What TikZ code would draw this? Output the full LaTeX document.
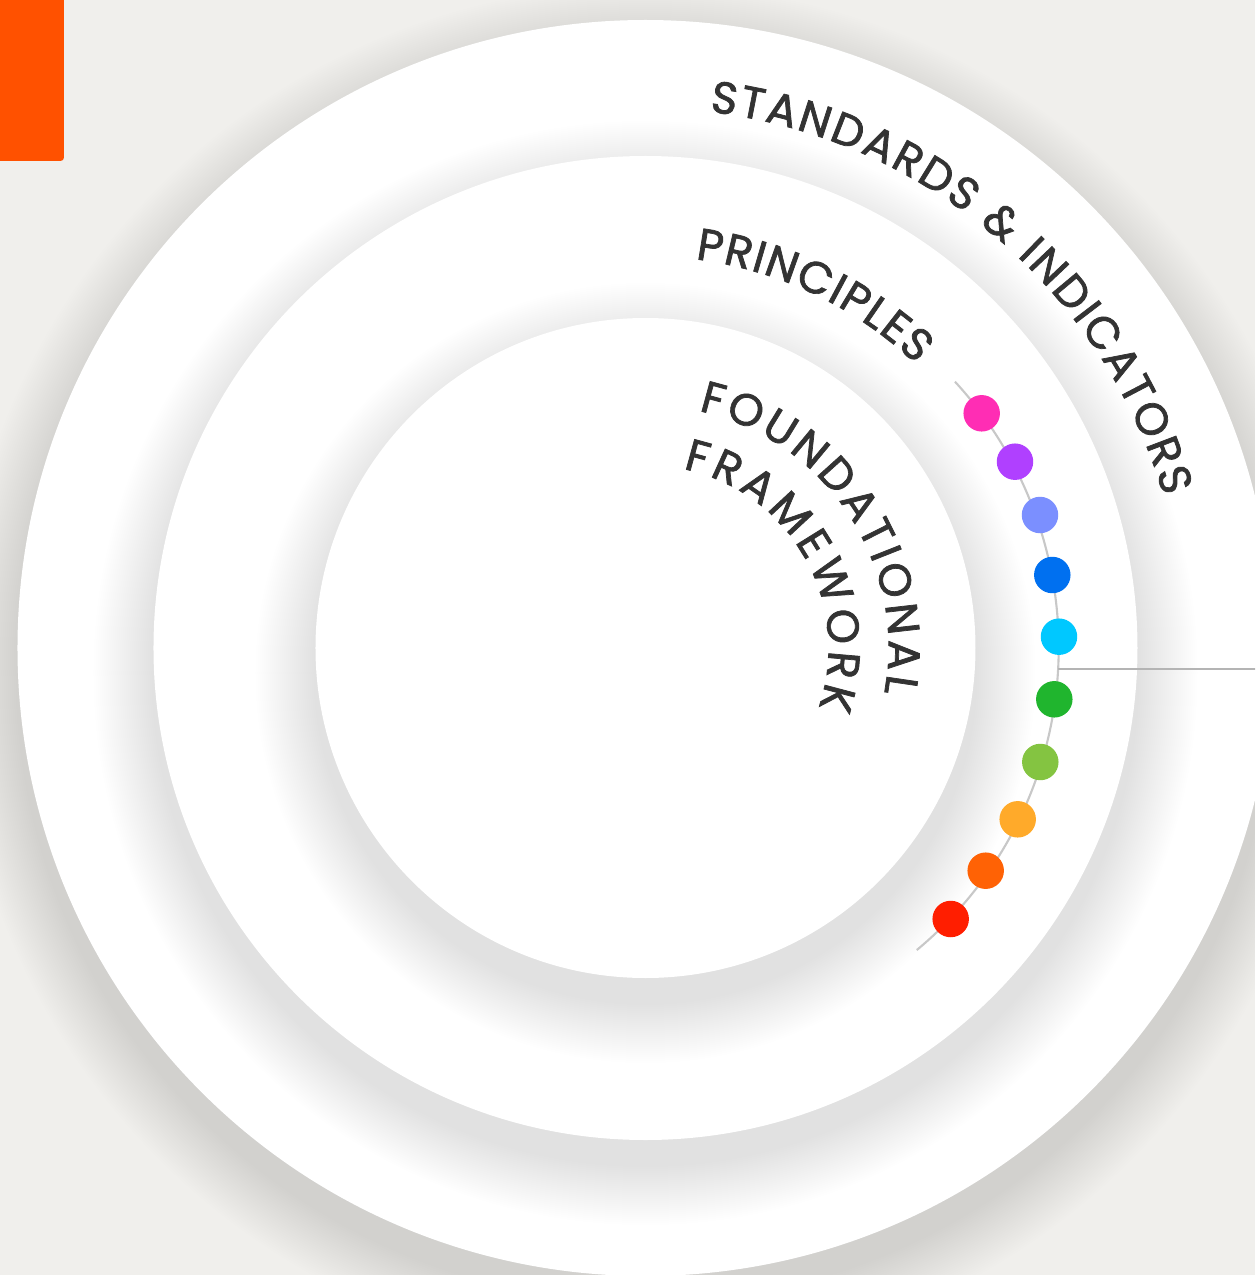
\documentclass[tikz,border=0pt]{standalone}
\usepackage{fontspec}
\usepackage{xcolor}
\usepackage{tikz}
\usetikzlibrary{positioning}
\usetikzlibrary{decorations.text}
\newfontfamily\ringfont{Poppins}[FakeBold=1.6]
\definecolor{paper}{HTML}{F0EFEC}
\definecolor{accent}{HTML}{FF5100}
\definecolor{ink}{HTML}{333333}
\definecolor{rail}{HTML}{C8C8C8}
\definecolor{tapline}{HTML}{B4B4B4}
\definecolor{cpink}{HTML}{FF2DB4}
\definecolor{cviolet}{HTML}{B040FF}
\definecolor{clavender}{HTML}{7B8FFF}
\definecolor{cblue}{HTML}{0070F0}
\definecolor{ccyan}{HTML}{00C8FF}
\definecolor{cgreen}{HTML}{20B52E}
\definecolor{clime}{HTML}{84C441}
\definecolor{camber}{HTML}{FFAA2A}
\definecolor{corange}{HTML}{FF6205}
\definecolor{cred}{HTML}{FF1E00}

\begin{document}
\begin{tikzpicture}
               [x=0.02cm, y=0.02cm,
                ring/.style = {circle, inner sep=0pt, fill=white},
                shade/.style = {fill=black, opacity=0.0055},
                dot/.style = {circle, inner sep=0pt, minimum size=0.73cm},
                curved/.style = {decorate, decoration={text along path, text align={fit to path}, text color=ink}}]
                % Page
                \clip (-645.5,-627) rectangle (609.5,648);
                \fill[paper] (-645.5,-627) rectangle (609.5,648);
                \fill[accent, rounded corners=2pt] (-660,660) rectangle (-581.5,487);
                % Rings, each with a soft shadow below it
                \foreach \r/\n in {628/outer, 492/middle, 330/inner} {
                    \foreach \k in {1,...,30}
                        \fill[shade] (0,-25) circle[radius=\r+2*\k];
                    \node[ring, minimum size=2*\r*0.02cm] (\n) at (0,0) {};
                }
                % Ring titles
                \path[curved, decoration={text={|\ringfont\fontsize{25.5}{30}\selectfont|STANDARDS {\&} INDICATORS}}]
                    (83.2:540) arc[start angle=83.2, end angle=16.3, radius=540];
                \path[curved, decoration={text={|\ringfont\fontsize{25.5}{30}\selectfont|PRINCIPLES}}]
                    (82.7:392) arc[start angle=82.7, end angle=46.3, radius=392];
                \path[curved, decoration={text={|\ringfont\fontsize{25.5}{30}\selectfont|FOUNDATIONAL}}]
                    (77.4:243) arc[start angle=77.4, end angle=-10.6, radius=243];
                \path[curved, decoration={text={|\ringfont\fontsize{25.5}{30}\selectfont|FRAMEWORK}}]
                    (78.2:183) arc[start angle=78.2, end angle=-19, radius=183];
                % Rail and tap
                \coordinate (railtop) at (309.5,266.3);
                \coordinate (tap) at (412,-21);
                \coordinate (tapend) at (615,-21);
                \draw[rail, line width=1.2pt] (railtop) arc[start angle=42.6, end angle=-50.3, radius=393];
                \draw[tapline, line width=1.2pt] (tap) -- (tapend);
                % Principle dots
                \node[dot, fill=cpink] (d1) at (336.2,234.7) {};
                \node[dot, fill=cviolet] (d2) at (369.5,186.3) {};
                \node[dot, fill=clavender] (d3) at (394.5,133) {};
                \node[dot, fill=cblue] (d4) at (406.8,73) {};
                \node[dot, fill=ccyan] (d5) at (413.5,11.3) {};
                \node[dot, fill=cgreen] (d6) at (408.8,-51.3) {};
                \node[dot, fill=clime] (d7) at (394.8,-114) {};
                \node[dot, fill=camber] (d8) at (372.2,-171.3) {};
                \node[dot, fill=corange] (d9) at (340.2,-222.7) {};
                \node[dot, fill=cred] (d10) at (305.2,-271) {};
\end{tikzpicture}
\end{document}
